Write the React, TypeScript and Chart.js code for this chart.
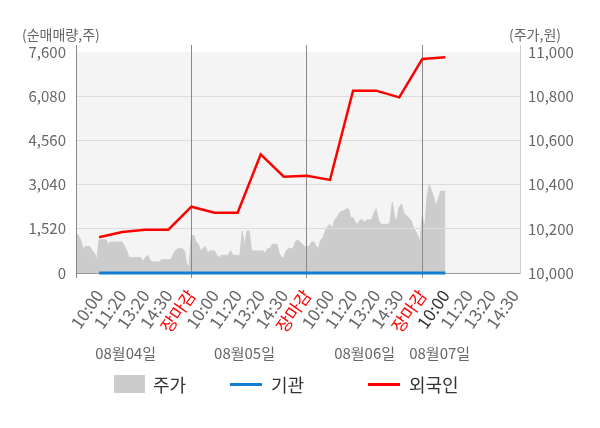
import React, { useEffect, useRef } from "react";
import { Chart, registerables } from "chart.js";

Chart.register(...registerables);

const FONT = "'Noto Sans CJK KR', 'Noto Sans', sans-serif";

// one tick per slot; slot 0 is the start of the 08/04 session
const xTickLabels = [
  "", "10:00", "11:20", "13:20", "14:30", "장마감",
  "10:00", "11:20", "13:20", "14:30", "장마감",
  "10:00", "11:20", "13:20", "14:30", "장마감",
  "10:00", "11:20", "13:20", "14:30",
];
const currentTick = 16;
const dateLabels = ["08월04일", "08월05일", "08월06일", "08월07일"];
const leftTicks = [0, 1520, 3040, 4560, 6080, 7600];
const rightTicks = [10000, 10200, 10400, 10600, 10800, 11000];

// net buying, one value per slot starting at slot 1
const foreignNet = [
  1230, 1410, 1490, 1490, 2280, 2070, 2070, 4080,
  3310, 3340, 3200, 6270, 6270, 6040, 7360, 7420,
];
const institutionNet = [
  0, 0, 0, 0, 0, 0, 0, 0,
  0, 0, 0, 0, 0, 0, 0, 0,
];

// share price, sampled every 0.1 slot from slot 0
const priceSeries = [
  // 08/04
  10180, 10170, 10150, 10110, 10120, 10120, 10120, 10100, 10090, 10060,
  10150, 10150, 10150, 10150, 10130, 10140, 10140, 10140, 10140, 10140,
  10140, 10120, 10100, 10070, 10070, 10070, 10070, 10070, 10070, 10050,
  10070, 10080, 10060, 10050, 10050, 10050, 10050, 10060, 10060, 10060,
  10060, 10060, 10080, 10100, 10110, 10110, 10110, 10100, 10040, 10030,
  // 08/05
  10170, 10170, 10140, 10130, 10100, 10110, 10120, 10090, 10100, 10100,
  10100, 10080, 10070, 10080, 10080, 10080, 10080, 10100, 10080, 10080,
  10080, 10080, 10190, 10120, 10190, 10190, 10100, 10100, 10100, 10100,
  10100, 10100, 10090, 10110, 10110, 10130, 10130, 10130, 10090, 10070,
  10070, 10100, 10110, 10110, 10110, 10140, 10150, 10140, 10130, 10120,
  // 08/06
  10120, 10120, 10140, 10140, 10120, 10110, 10150, 10160, 10190, 10210,
  10220, 10200, 10240, 10250, 10270, 10280, 10280, 10290, 10290, 10250,
  10250, 10230, 10220, 10240, 10240, 10230, 10240, 10240, 10240, 10270,
  10290, 10240, 10220, 10220, 10220, 10220, 10230, 10320, 10250, 10240,
  10300, 10310, 10270, 10260, 10250, 10240, 10210, 10190, 10170, 10140,
  // 08/07
  10260, 10200, 10340, 10400, 10370, 10340, 10300, 10340, 10370, 10370,
  10370,
];

const GREY_INDEX = 2;

const plotBackground = {
  id: "plotBackground",
  beforeDraw(chart: any) {
    const { ctx, chartArea, scales } = chart;
    const top = scales.y.getPixelForValue(7600);
    ctx.save();
    ctx.fillStyle = "#f4f4f4";
    ctx.fillRect(chartArea.left, top, chartArea.right - chartArea.left, chartArea.bottom - top);
    ctx.restore();
  },
};

// grid lines sit on top of the grey price area, under the lines
const gridOverArea = {
  id: "gridOverArea",
  afterDatasetDraw(chart: any, args: any) {
    if (args.index !== GREY_INDEX) return;
    chart.scales.y.drawGrid(chart.chartArea);
    chart.scales.x.drawGrid(chart.chartArea);
  },
};

const datePositions = [2.15, 7.3, 12.5, 15.75];
const dateRow = {
  id: "dateRow",
  afterDraw(chart: any) {
    const { ctx, scales } = chart;
    ctx.save();
    ctx.font = `15px ${FONT}`;
    ctx.fillStyle = "#666";
    ctx.textAlign = "center";
    ctx.textBaseline = "middle";
    dateLabels.forEach((d, i) => {
      ctx.fillText(d, scales.x.getPixelForValue(datePositions[i]), 353);
    });
    ctx.restore();
  },
};

const tickColor = (i: number) => {
  if (xTickLabels[i] === "장마감") return "#ff0000";
  if (i === currentTick) return "#333";
  return "#666";
};

const App: React.FC = () => {
  const chartRef = useRef<HTMLCanvasElement | null>(null);
  const chartInstance = useRef<Chart | null>(null);

  useEffect(() => {
    if (!chartRef.current) return;
    const ctx = chartRef.current.getContext("2d");
    if (!ctx) return;
    if (chartInstance.current) chartInstance.current.destroy();

    chartInstance.current = new Chart(ctx, {
      type: "line",
      data: {
        datasets: [
          {
            label: "외국인",
            data: foreignNet.map((v, i) => ({ x: i + 1, y: v })),
            yAxisID: "y",
            borderColor: "#ff0000",
            borderWidth: 2.5,
            pointRadius: 0,
            tension: 0,
          },
          {
            label: "기관",
            data: institutionNet.map((v, i) => ({ x: i + 1, y: v })),
            yAxisID: "y",
            borderColor: "#117ed1",
            borderWidth: 3,
            pointRadius: 0,
            tension: 0,
            clip: 4,
          },
          {
            label: "주가",
            data: priceSeries.map((v, i) => ({ x: i / 10, y: v })),
            yAxisID: "y1",
            borderColor: "#cccccc",
            backgroundColor: "#cccccc",
            borderWidth: 1,
            fill: "origin",
            pointRadius: 0,
            tension: 0,
          },
        ],
      },
      options: {
        animation: false,
        responsive: false,
        layout: { padding: { top: 45, left: 0, right: 0, bottom: 0 } },
        plugins: {
          legend: { display: false },
          tooltip: { enabled: false },
        },
        font: { family: FONT },
        scales: {
          x: {
            type: "linear",
            min: 0,
            max: 19.23,
            afterBuildTicks: (s: any) => {
              s.ticks = xTickLabels.map((_, i) => ({ value: i }));
            },
            afterFit: (s: any) => {
              s.height = 155;
            },
            border: { color: "#999" },
            grid: {
              color: (c: any) =>
                c.index === 0 || xTickLabels[c.index] === "장마감" ? "#888" : "transparent",
              tickLength: 5,
            },
            ticks: {
              autoSkip: false,
              minRotation: 55,
              maxRotation: 55,
              padding: 8,
              font: { size: 17, family: FONT },
              color: (c: any) => tickColor(c.index),
              callback: (v: any) => xTickLabels[Math.round(v)] ?? "",
            },
          },
          y: {
            position: "left",
            min: 0,
            max: 7840,
            afterBuildTicks: (s: any) => {
              s.ticks = leftTicks.map((v) => ({ value: v }));
            },
            afterFit: (s: any) => {
              s.width = 76;
            },
            border: { color: "#888" },
            grid: {
              color: (c: any) =>
                c.tick && (c.tick.value === 0 || c.tick.value === 7600) ? "transparent" : "#dcdcdc",
              drawTicks: false,
            },
            ticks: {
              padding: 10,
              font: { size: 15, family: FONT },
              color: "#666",
              callback: (v: any) => Number(v).toLocaleString("en-US"),
            },
          },
          y1: {
            position: "right",
            min: 10000,
            max: 11031.7,
            afterBuildTicks: (s: any) => {
              s.ticks = rightTicks.map((v) => ({ value: v }));
            },
            afterFit: (s: any) => {
              s.width = 80;
            },
            border: { color: "#cccccc" },
            grid: { display: false, drawTicks: false },
            ticks: {
              padding: 8,
              font: { size: 15, family: FONT },
              color: "#666",
              callback: (v: any) => Number(v).toLocaleString("en-US"),
            },
          },
        },
      } as any,
      plugins: [plotBackground, gridOverArea, dateRow],
    });

    return () => {
      if (chartInstance.current) {
        chartInstance.current.destroy();
        chartInstance.current = null;
      }
    };
  }, []);

  const text = (t: string, left: number, top: number, size: number, color: string) => (
    <div
      style={{
        position: "absolute",
        left,
        top,
        fontSize: size,
        lineHeight: "24px",
        color,
        fontFamily: FONT,
        whiteSpace: "nowrap",
      }}
    >
      {t}
    </div>
  );

  return (
    <div style={{ position: "absolute", left: 0, top: 0, width: 600, height: 428, background: "#fff" }}>
      <canvas ref={chartRef} width={600} height={428} style={{ width: 600, height: 428 }} />
      {text("(순매매량,주)", 22, 22, 14, "#666")}
      {text("(주가,원)", 509, 22, 14, "#666")}
      <div style={{ position: "absolute", left: 114, top: 375, width: 31, height: 18, background: "#cccccc" }} />
      {text("주가", 153, 372, 18, "#333")}
      <div style={{ position: "absolute", left: 230, top: 383, width: 32, height: 3, background: "#117ed1" }} />
      {text("기관", 271, 372, 18, "#333")}
      <div style={{ position: "absolute", left: 368, top: 383, width: 32, height: 3, background: "#ff0000" }} />
      {text("외국인", 409, 372, 18, "#333")}
    </div>
  );
};

export default App;
